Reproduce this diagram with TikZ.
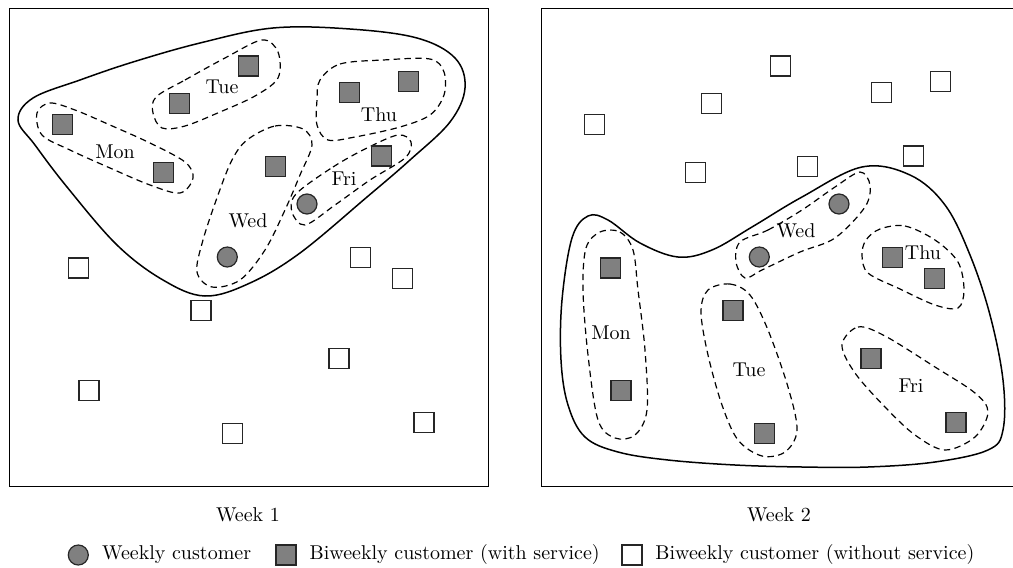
\documentclass[tikz,border=0pt]{standalone}
\begin{document}
\begin{tikzpicture}[x=0.5pt,y=-0.5pt,
  panel/.style={draw, line width=0.5pt},
  tour/.style={draw, line width=0.75pt},
  dayset/.style={draw, line width=0.6pt, dash pattern=on 3.2pt off 2.2pt},
  weekly/.style={circle, draw=black!85, fill=black!50, line width=0.6pt, minimum size=10pt, inner sep=0pt},
  served/.style={rectangle, draw=black!85, fill=black!50, line width=0.6pt, minimum size=10pt, inner sep=0pt},
  idle/.style={rectangle, draw=black!85, fill=white, line width=0.6pt, minimum size=10pt, inner sep=0pt},
  day/.style={inner sep=0pt},
  caption/.style={inner sep=0pt, anchor=base},
  legtext/.style={inner sep=0pt, anchor=base west},
]
\useasboundingbox (0,0) rectangle (1013,568);
\clip (0,0) rectangle (1013,568);

% ---------------- Week 1 ----------------
\draw[panel] (9,8) rectangle (488,486);
\draw[tour] plot[smooth cycle, tension=0.6] coordinates {
  (18,120) (33,98) (80,80) (133,62) (200,43) (273,28) (350,29) (417,38) (455,58)
  (465,88) (450,122) (410,160) (367,197) (300,253) (250,283) (205,296) (163,280)
  (117,245) (67,187) (35,145)};
% day groups
\draw[dayset] plot[smooth cycle, tension=0.55] coordinates {
  (37,113) (50,103) (75,110) (110,125) (150,143) (185,162) (193,178) (180,193)
  (150,185) (110,168) (70,150) (42,135)};
\draw[dayset] plot[smooth cycle, tension=0.55] coordinates {
  (156,97) (185,80) (225,58) (262,40) (278,52) (278,78) (255,96) (220,112)
  (185,126) (162,128) (153,113)};
\draw[dayset] plot[smooth cycle, tension=0.55] coordinates {
  (320,80) (340,64) (383,60) (430,59) (444,72) (444,95) (430,115) (400,127)
  (355,137) (328,140) (317,125) (317,100)};
\draw[dayset] plot[smooth cycle, tension=0.55] coordinates {
  (247,140) (275,126) (303,129) (312,145) (300,175) (285,210) (265,250) (240,280)
  (212,287) (197,272) (203,240) (218,195) (232,160)};
\draw[dayset] plot[smooth cycle, tension=0.55] coordinates {
  (296,194) (333,167) (367,148) (398,135) (411,142) (405,158) (370,180) (335,205)
  (305,225) (292,212)};

\node[day] (mon1) at (115,152) {Mon};
\node[day] (tue1) at (222,87) {Tue};
\node[day] (wed1) at (248,221) {Wed};
\node[day] (thu1) at (379,115) {Thu};
\node[day] (fri1) at (344,179) {Fri};

\node[weekly] (wa1) at (227.3,257) {};
\node[weekly] (wb1) at (307,204) {};
\node[served] (pm1) at (62.7,124.3) {};
\node[served] (pm2) at (163.7,172.3) {};
\node[served] (pt1) at (179.3,103.3) {};
\node[served] (pt2) at (248.7,66) {};
\node[served] (ph1) at (349.7,92.3) {};
\node[served] (ph2) at (408.3,81.7) {};
\node[served] (pw1) at (275.3,166.7) {};
\node[served] (pf1) at (381.7,156) {};
\node[idle] (qa1) at (78.3,268) {};
\node[idle] (qb1) at (89,390.7) {};
\node[idle] (qc1) at (201,310.7) {};
\node[idle] (qd1) at (232.3,433.3) {};
\node[idle] (qe1) at (360.3,257.3) {};
\node[idle] (qf1) at (402.7,278.3) {};
\node[idle] (qg1) at (339,358.3) {};
\node[idle] (qh1) at (424,422.7) {};

\node[caption] (week1) at (248,521) {Week 1};

% ---------------- Week 2 ----------------
\draw[panel] (541,8) rectangle (1030,486);
\draw[tour] plot[smooth cycle, tension=0.6] coordinates {
  (572,238) (588,216) (608,220) (640,243) (678,257) (712,250) (752,227) (802,197)
  (862,167) (910,175) (945,205) (970,255) (990,315) (1003,380) (1003,430) (988,450)
  (935,462) (868,467) (802,467) (735,465) (668,460) (618,452) (585,437) (568,405)
  (561,360) (562,300)};
\draw[dayset] plot[smooth cycle, tension=0.55] coordinates {
  (740,242) (768,230) (802,210) (835,187) (860,172) (870,185) (865,207) (835,238)
  (800,252) (762,270) (745,278) (736,262)};
\draw[dayset] plot[smooth cycle, tension=0.55] coordinates {
  (880,229) (905,226) (935,240) (958,262) (964,290) (958,308) (935,305) (900,289)
  (868,273) (862,255) (866,240)};
\draw[dayset] plot[smooth cycle, tension=0.55] coordinates {
  (600,232) (620,232) (633,250) (638,290) (645,350) (647,410) (635,435) (615,438)
  (598,420) (588,355) (583,290) (586,248)};
\draw[dayset] plot[smooth cycle, tension=0.55] coordinates {
  (708,290) (730,284) (750,295) (768,330) (788,387) (797,430) (785,452) (762,456)
  (738,440) (722,405) (708,355) (701,312)};
\draw[dayset] plot[smooth cycle, tension=0.55] coordinates {
  (842,345) (858,327) (885,336) (935,367) (975,393) (988,412) (975,437) (945,450)
  (915,435) (885,407) (855,373)};

\node[day] (mon2) at (611,333) {Mon};
\node[day] (tue2) at (749,370) {Tue};
\node[day] (wed2) at (796,231) {Wed};
\node[day] (thu2) at (923,253) {Thu};
\node[day] (fri2) at (911,386) {Fri};

\node[weekly] (wa2) at (759.3,257) {};
\node[weekly] (wb2) at (839,204) {};
\node[idle] (pm3) at (594.7,124.3) {};
\node[idle] (pm4) at (695.7,172.3) {};
\node[idle] (pt3) at (711.3,103.3) {};
\node[idle] (pt4) at (780.7,66) {};
\node[idle] (ph3) at (881.7,92.3) {};
\node[idle] (ph4) at (940.3,81.7) {};
\node[idle] (pw3) at (807.3,166.7) {};
\node[idle] (pf3) at (913.7,156) {};
\node[served] (qa2) at (610.3,268) {};
\node[served] (qb2) at (621,390.7) {};
\node[served] (qc2) at (733,310.7) {};
\node[served] (qd2) at (764.3,433.3) {};
\node[served] (qe2) at (892.3,257.3) {};
\node[served] (qf2) at (934.7,278.3) {};
\node[served] (qg2) at (871,358.3) {};
\node[served] (qh2) at (956,422.7) {};

\node[caption] (week2) at (779,521) {Week 2};

% ---------------- Legend ----------------
\node[weekly] (lw) at (78.3,555) {};
\node[legtext] (lwt) at (101.7,559) {Weekly customer};
\node[served] (ls) at (286,555) {};
\node[legtext] (lst) at (309.3,559) {Biweekly customer (with service)};
\node[idle] (li) at (632,555) {};
\node[legtext] (lit) at (655,559) {Biweekly customer (without service)};
\end{tikzpicture}
\end{document}
